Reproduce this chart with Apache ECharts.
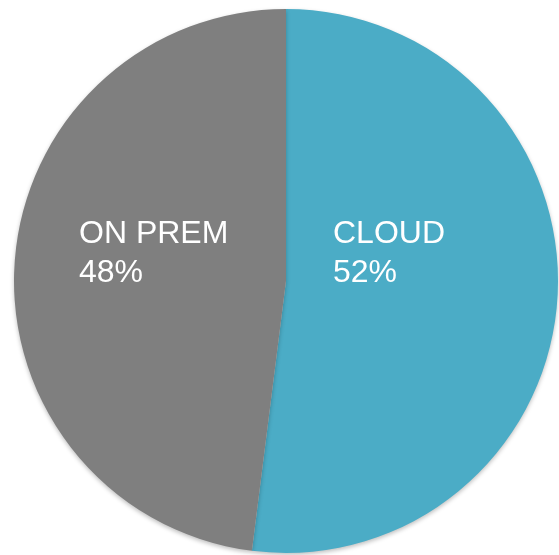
<!DOCTYPE html>
<html>
<head>
<meta charset="utf-8">
<script src="https://cdn.jsdelivr.net/npm/echarts@6/dist/echarts.min.js"></script>
<style>html,body{margin:0;padding:0;background:#fff}#c{width:559px;height:555px}</style>
</head>
<body>
<div id="c"></div>
<script>
const categories = ['CLOUD', 'ON PREM'];
const values = [52, 48];
const colors = ['#4BACC6', '#7F7F7F'];
const labelPos = [[333, 215], [79, 215]];

const chart = echarts.init(document.getElementById('c'));
chart.setOption({
  animation: false,
  series: [{
    type: 'pie',
    center: [286, 281],
    radius: 272,
    startAngle: 90,
    clockwise: true,
    data: categories.map((n, i) => ({ name: n, value: values[i], itemStyle: { color: colors[i] } })),
    itemStyle: { shadowBlur: 4, shadowOffsetY: 2, shadowColor: 'rgba(0,0,0,0.25)' },
    emphasis: { disabled: true },
    label: {
      show: true,
      position: 'inside',
      formatter: p => p.name + '\n' + p.value + '%',
      color: '#fff',
      fontFamily: 'Liberation Sans, Arial, sans-serif',
      fontSize: 32,
      lineHeight: 39,
      align: 'left'
    },
    labelLine: { show: false },
    labelLayout: p => ({
      x: labelPos[p.dataIndex][0],
      y: labelPos[p.dataIndex][1],
      align: 'left',
      verticalAlign: 'top'
    })
  }]
});
</script>
</body>
</html>
